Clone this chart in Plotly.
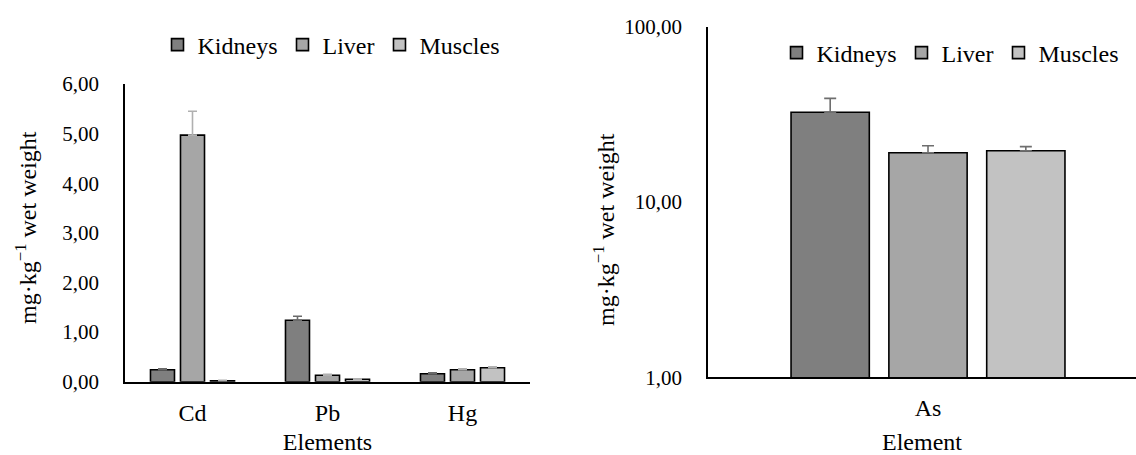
import plotly.graph_objects as go

# ---- data ----
elements = ["Cd", "Pb", "Hg"]
kidneys = [0.24, 1.24, 0.16]
kidneys_err = [0.02, 0.08, 0.02]
liver = [4.97, 0.13, 0.24]
liver_err = [0.48, 0.02, 0.02]
muscles = [0.02, 0.05, 0.28]
muscles_err = [0.01, 0.01, 0.02]

element_as = ["As"]
as_kidneys = [32.5]
as_kidneys_err = [6.5]
as_liver = [19.1]
as_liver_err = [1.85]
as_muscles = [19.6]
as_muscles_err = [1.1]

series_names = ["Kidneys", "Liver", "Muscles"]
y_title_text = "mg·kg<sup>−1</sup> wet weight"
fills = ["#7f7f7f", "#a6a6a6", "#c2c2c2"]
err_left = ["#6a6a6a", "#b0b0b0", "#b0b0b0"]
err_right = ["#6e6e6e", "#6e6e6e", "#6e6e6e"]

FONT = "'Liberation Serif', 'Times New Roman', 'DejaVu Serif', serif"
W, H = 1136, 455

fig = go.Figure()

left_vals = [(kidneys, kidneys_err), (liver, liver_err), (muscles, muscles_err)]
for name, (v, e), c, ec in zip(series_names, left_vals, fills, err_left):
    fig.add_trace(go.Bar(
        x=elements, y=v, name=name, xaxis="x", yaxis="y", legend="legend",
        marker=dict(color=c, line=dict(color="black", width=1.6)),
        error_y=dict(type="data", array=e, arrayminus=[0] * len(e), symmetric=False,
                     color=ec, thickness=1.6, width=4.5),
    ))

right_vals = [(as_kidneys, as_kidneys_err), (as_liver, as_liver_err), (as_muscles, as_muscles_err)]
for name, (v, e), c, ec in zip(series_names, right_vals, fills, err_right):
    fig.add_trace(go.Bar(
        x=element_as, y=v, name=name, xaxis="x2", yaxis="y2", legend="legend2",
        marker=dict(color=c, line=dict(color="black", width=1.6)),
        error_y=dict(type="data", array=e, arrayminus=[0] * len(e), symmetric=False,
                     color=ec, thickness=1.6, width=6),
    ))

# plot-area pixel boxes measured on the reference
L = dict(x0=125, x1=530, ytop=84, ybot=381.7)
R = dict(x0=708, x1=1136, ytop=26.7, ybot=377.3)

def xd(a, b):
    return [a / W, b / W]

def yd(top, bot):
    return [(H - bot) / H, (H - top) / H]

axis_common = dict(showgrid=False, zeroline=False, showline=True, linecolor="black",
                   linewidth=1.6, ticks="", automargin=False)

tick_y = dict(family=FONT, size=21, color="black")
tick_x = dict(family=FONT, size=24, color="black")
title_font = dict(family=FONT, size=24, color="black")

fig.update_layout(
    template="none",
    width=W, height=H,
    margin=dict(l=0, r=0, t=0, b=0, autoexpand=False),
    paper_bgcolor="white", plot_bgcolor="white",
    separators=", ",
    barmode="group", bargap=0.333, bargroupgap=0.2,
    font=dict(family=FONT, color="black"),
    xaxis=dict(**axis_common, tickfont=tick_x,
               domain=xd(L["x0"], L["x1"]), anchor="y",
               ticklabelstandoff=9,
               title=dict(text="Elements", font=title_font, standoff=14)),
    yaxis=dict(**axis_common, tickfont=tick_y, domain=yd(L["ytop"], L["ybot"]), anchor="x",
               range=[0, 6], dtick=1, tickformat=".2f", ticklabelstandoff=20),
    xaxis2=dict(**axis_common, tickfont=tick_x,
                domain=xd(R["x0"], R["x1"]), anchor="y2",
                range=[-0.5, 0.4727], ticklabelstandoff=8,
                title=dict(text="Element", font=title_font, standoff=20)),
    yaxis2=dict(**axis_common, tickfont=tick_y, domain=yd(R["ytop"], R["ybot"]), anchor="x2",
                type="log", range=[0, 2], dtick=1, tickformat=".2f", ticklabelstandoff=20),
    legend=dict(orientation="h", x=331 / W, xanchor="center", y=(H - 45) / H, yanchor="middle",
                font=dict(family=FONT, size=24, color="black"), bgcolor="rgba(0,0,0,0)",
                itemwidth=30, tracegroupgap=0),
    legend2=dict(orientation="h", x=950 / W, xanchor="center", y=(H - 53) / H, yanchor="middle",
                 font=dict(family=FONT, size=24, color="black"), bgcolor="rgba(0,0,0,0)",
                 itemwidth=30, tracegroupgap=0),
    showlegend=True,
    annotations=[
        dict(text=y_title_text, textangle=-90, xref="paper", yref="paper",
             x=26 / W, y=(H - 228) / H, xanchor="center", yanchor="middle",
             showarrow=False, font=title_font),
        dict(text=y_title_text, textangle=-90, xref="paper", yref="paper",
             x=604 / W, y=(H - 230) / H, xanchor="center", yanchor="middle",
             showarrow=False, font=title_font),
    ],
)

fig.write_html("out.html")
